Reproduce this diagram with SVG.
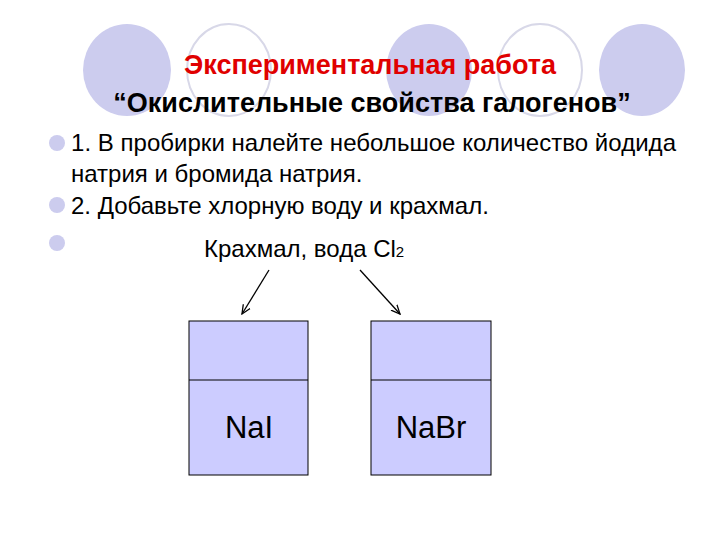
<svg xmlns="http://www.w3.org/2000/svg" width="720" height="540" viewBox="0 0 720 540">
<style>
.f{fill:#ccccee}
.o{fill:none;stroke:#d8d8e8;stroke-width:2}
.t{font-family:"Liberation Sans",Arial,sans-serif;fill:#000}
.box{fill:#ccccff;stroke:#000;stroke-width:1}
.ar{stroke:#000;stroke-width:1.3;fill:none;marker-end:url(#m)}
</style>
<defs><marker id="m" markerWidth="10" markerHeight="10" refX="9" refY="5" orient="auto" markerUnits="userSpaceOnUse"><path d="M0,1 L9,5 L0,9" fill="none" stroke="#000" stroke-width="1.3"/></marker></defs>
<rect width="720" height="540" fill="#fff"/>
<ellipse class="f" cx="127" cy="70" rx="44" ry="46"/>
<ellipse class="o" cx="229" cy="70" rx="42" ry="46"/>
<ellipse class="f" cx="429" cy="70" rx="43" ry="46"/>
<ellipse class="o" cx="540" cy="70" rx="42" ry="46"/>
<ellipse class="f" cx="642" cy="70" rx="43" ry="46"/>
<text class="t" x="370" y="74" text-anchor="middle" font-size="27" font-weight="bold" style="fill:#e00000">Экспериментальная работа</text>
<text class="t" x="372" y="112" text-anchor="middle" font-size="27" font-weight="bold">“Окислительные свойства галогенов”</text>
<circle class="f" cx="57" cy="143" r="8"/>
<circle class="f" cx="57" cy="205" r="8"/>
<circle class="f" cx="57" cy="243" r="8"/>
<text class="t" x="71" y="151" font-size="24" textLength="605">1. В пробирки налейте небольшое количество йодида</text>
<text class="t" x="71" y="182" font-size="24">натрия и бромида натрия.</text>
<text class="t" x="71" y="214" font-size="24">2. Добавьте хлорную воду и крахмал.</text>
<text class="t" x="204" y="257" font-size="24">Крахмал, вода Cl<tspan font-size="15">2</tspan></text>
<g id="connectors">
<path class="ar" d="M269,270 L242,314"/>
<path class="ar" d="M360,270 L400,314"/>
</g>
<g id="nai">
<rect class="box" x="189" y="321" width="119" height="154"/>
<line x1="189" y1="380" x2="308" y2="380" stroke="#000"/>
<text class="t" x="249" y="438" text-anchor="middle" font-size="31">NaI</text>
</g>
<g id="nabr">
<rect class="box" x="371" y="321" width="120" height="154"/>
<line x1="371" y1="380" x2="491" y2="380" stroke="#000"/>
<text class="t" x="431" y="438" text-anchor="middle" font-size="31">NaBr</text>
</g>
</svg>
